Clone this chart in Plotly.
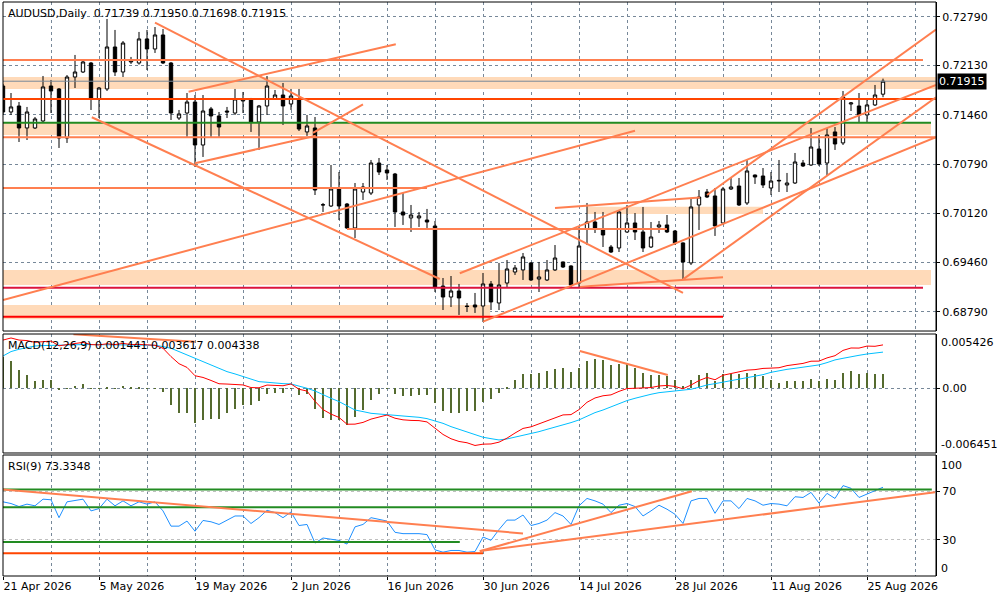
import plotly.graph_objects as go
from plotly.subplots import make_subplots

# ---------------- values ----------------
tick_labels = ['21 Apr 2026', '5 May 2026', '19 May 2026', '2 Jun 2026', '16 Jun 2026',
               '30 Jun 2026', '14 Jul 2026', '28 Jul 2026', '11 Aug 2026', '25 Aug 2026']
tick_bars = [0, 12, 24, 36, 48, 60, 72, 84, 96, 108]

price_ticks = [0.72790, 0.72130, 0.71460, 0.70790, 0.70120, 0.69460, 0.68790]

opens = [
    0.71850, 0.71498, 0.71579, 0.71281, 0.71281, 0.71376, 0.71850, 0.71810, 0.71145, 0.71972,
    0.72040, 0.72162, 0.71674, 0.71810, 0.72379, 0.72040, 0.72176, 0.72162, 0.72488, 0.72352,
    0.72542, 0.72162, 0.71416, 0.71484, 0.71633, 0.71050, 0.71539, 0.71444, 0.71511, 0.71484,
    0.71647, 0.71674, 0.71362, 0.71579, 0.71674, 0.71728, 0.71606, 0.71674, 0.71227, 0.71281,
    0.70237, 0.70223, 0.70454, 0.70250, 0.69925, 0.70413, 0.70399, 0.70806, 0.70711, 0.70657,
    0.70142, 0.70061, 0.70061, 0.70033, 0.69952, 0.69138, 0.68989, 0.69071, 0.68867, 0.68881,
    0.68867, 0.69166, 0.68908, 0.69179, 0.69328, 0.69356, 0.69451, 0.69233, 0.69220, 0.69356,
    0.69464, 0.69410, 0.69179, 0.69912, 0.70006, 0.69898, 0.69667, 0.69654, 0.69871, 0.69993,
    0.69871, 0.69667, 0.69939, 0.69966, 0.69884, 0.69722, 0.69451, 0.70237, 0.70413, 0.70359,
    0.69993, 0.70454, 0.70494, 0.70264, 0.70643, 0.70630, 0.70467, 0.70562, 0.70508, 0.70535,
    0.70806, 0.70779, 0.70996, 0.70806, 0.71227, 0.71078, 0.71606, 0.71579, 0.71457, 0.71593,
    0.71739]
highs = [
    0.71878, 0.71755, 0.71633, 0.71566, 0.71430, 0.71986, 0.71932, 0.71823, 0.71999, 0.72271,
    0.72203, 0.72176, 0.71837, 0.72759, 0.72610, 0.72460, 0.72244, 0.72583, 0.72610, 0.72650,
    0.72623, 0.72176, 0.71525, 0.71755, 0.71728, 0.71728, 0.71566, 0.71498, 0.71566, 0.71810,
    0.71769, 0.71688, 0.71593, 0.71986, 0.71796, 0.71891, 0.71810, 0.71810, 0.71457, 0.71430,
    0.70264, 0.70779, 0.70684, 0.70264, 0.70535, 0.70535, 0.70847, 0.70874, 0.70779, 0.70671,
    0.70399, 0.70237, 0.70142, 0.70183, 0.70020, 0.69247, 0.69274, 0.69166, 0.68908, 0.69044,
    0.69315, 0.69206, 0.69451, 0.69491, 0.69423, 0.69586, 0.69464, 0.69464, 0.69491, 0.69694,
    0.69470, 0.69420, 0.69939, 0.70264, 0.70142, 0.70142, 0.69694, 0.70155, 0.70237, 0.70128,
    0.70210, 0.70006, 0.70020, 0.70101, 0.69898, 0.69730, 0.70318, 0.70440, 0.70454, 0.70467,
    0.70481, 0.70616, 0.70603, 0.70847, 0.70650, 0.70738, 0.70684, 0.70847, 0.70671, 0.70942,
    0.70847, 0.71281, 0.71186, 0.71281, 0.71294, 0.71782, 0.71633, 0.71755, 0.71661, 0.71864,
    0.71950]
lows = [
    0.71457, 0.71457, 0.71091, 0.71118, 0.71267, 0.71362, 0.71484, 0.71010, 0.71078, 0.71823,
    0.72026, 0.71525, 0.71416, 0.71782, 0.71986, 0.71972, 0.72149, 0.72140, 0.72067, 0.72298,
    0.72149, 0.71389, 0.71389, 0.71159, 0.70752, 0.70888, 0.71159, 0.71159, 0.71416, 0.71457,
    0.71484, 0.71227, 0.70983, 0.71457, 0.71661, 0.71322, 0.71525, 0.71240, 0.71173, 0.70372,
    0.70142, 0.70210, 0.70033, 0.69912, 0.69789, 0.70305, 0.70372, 0.70643, 0.70576, 0.69939,
    0.69966, 0.69871, 0.69939, 0.69925, 0.69057, 0.68813, 0.68854, 0.68746, 0.68786, 0.68773,
    0.68651, 0.68813, 0.68813, 0.69125, 0.69288, 0.69220, 0.69206, 0.69057, 0.69206, 0.69342,
    0.69383, 0.69111, 0.69125, 0.69694, 0.69857, 0.69667, 0.69586, 0.69599, 0.69860, 0.69762,
    0.69599, 0.69654, 0.69857, 0.69857, 0.69694, 0.69233, 0.69423, 0.69898, 0.70331, 0.69817,
    0.69966, 0.70440, 0.70223, 0.70237, 0.70522, 0.70467, 0.70372, 0.70413, 0.70413, 0.70522,
    0.70752, 0.70766, 0.70766, 0.70643, 0.70983, 0.71050, 0.71511, 0.71362, 0.71349, 0.71579,
    0.71698]
closes = [
    0.71498, 0.71566, 0.71281, 0.71498, 0.71403, 0.71837, 0.71782, 0.71145, 0.71972, 0.72040,
    0.72176, 0.71674, 0.71823, 0.72379, 0.72040, 0.72433, 0.72189, 0.72488, 0.72352, 0.72542,
    0.72162, 0.71484, 0.71471, 0.71633, 0.71050, 0.71511, 0.71444, 0.71294, 0.71498, 0.71674,
    0.71660, 0.71362, 0.71579, 0.71850, 0.71728, 0.71579, 0.71715, 0.71267, 0.71308, 0.70440,
    0.70240, 0.70454, 0.70223, 0.69925, 0.70454, 0.70481, 0.70806, 0.70684, 0.70671, 0.70142,
    0.70101, 0.70101, 0.70088, 0.70006, 0.69125, 0.68989, 0.69071, 0.68976, 0.68860, 0.68854,
    0.69166, 0.68922, 0.69152, 0.69369, 0.69383, 0.69532, 0.69220, 0.69261, 0.69356, 0.69518,
    0.69396, 0.69152, 0.69681, 0.70006, 0.69925, 0.69830, 0.69599, 0.70142, 0.69993, 0.69871,
    0.69654, 0.69803, 0.69966, 0.69871, 0.69722, 0.69464, 0.70210, 0.70345, 0.70345, 0.69952,
    0.70454, 0.70481, 0.70237, 0.70698, 0.70616, 0.70508, 0.70562, 0.70570, 0.70535, 0.70820,
    0.70766, 0.71023, 0.70793, 0.71186, 0.71064, 0.71701, 0.71620, 0.71457, 0.71593, 0.71728,
    0.71915]

macd_hist = [
    0.00317, 0.00273, 0.00184, 0.00134, 0.00074, 0.00084, 0.00084, -0.00016, 0.00001, 0.00024,
    0.00044, 0.00002, -0.00006, 0.00017, 0.00002, 0.00024, 0.00007, 0.00011, 0.00002, 0.00002,
    -0.00033, -0.00166, -0.00242, -0.00249, -0.00349, -0.00315, -0.00309, -0.00309, -0.00249, -0.00206,
    -0.00166, -0.00166, -0.00122, -0.00056, -0.00043, -0.00043, 0.00002, -0.00066, -0.00056, -0.00206,
    -0.00292, -0.00315, -0.00315, -0.00365, -0.00282, -0.00216, -0.00116, -0.00056, 0.00002, -0.00059,
    -0.00076, -0.00076, -0.00066, -0.00066, -0.00150, -0.00223, -0.00242, -0.00242, -0.00223, -0.00223,
    -0.00137, -0.00106, -0.00043, 0.00017, 0.00084, 0.00143, 0.00143, 0.00157, 0.00173, 0.00194,
    0.00200, 0.00160, 0.00207, 0.00273, 0.00293, 0.00283, 0.00234, 0.00244, 0.00240, 0.00200,
    0.00157, 0.00134, 0.00134, 0.00124, 0.00084, 0.00024, 0.00084, 0.00134, 0.00150, 0.00077,
    0.00140, 0.00143, 0.00140, 0.00157, 0.00140, 0.00124, 0.00084, 0.00057, 0.00074, 0.00074,
    0.00077, 0.00094, 0.00077, 0.00094, 0.00084, 0.00157, 0.00173, 0.00143, 0.00157, 0.00140,
    0.001441]
macd_main = [
    0.00482, 0.00503, 0.00482, 0.00477, 0.00460, 0.00469, 0.00472, 0.00425, 0.00434, 0.00445,
    0.00459, 0.00437, 0.00434, 0.00445, 0.00437, 0.00449, 0.00437, 0.00439, 0.00433, 0.00430,
    0.00400, 0.00317, 0.00246, 0.00209, 0.00126, 0.00109, 0.00079, 0.00046, 0.00043, 0.00041,
    0.00034, 0.00008, 0.00006, 0.00033, 0.00029, 0.00026, 0.00044, -0.00009, -0.00027, -0.00129,
    -0.00212, -0.00257, -0.00290, -0.00358, -0.00357, -0.00340, -0.00307, -0.00284, -0.00266, -0.00298,
    -0.00314, -0.00320, -0.00322, -0.00335, -0.00397, -0.00460, -0.00503, -0.00530, -0.00543, -0.00570,
    -0.00557, -0.00555, -0.00537, -0.00497, -0.00446, -0.00400, -0.00384, -0.00353, -0.00322, -0.00292,
    -0.00265, -0.00262, -0.00212, -0.00139, -0.00096, -0.00074, -0.00065, -0.00030, -0.00002, 0.00001,
    0.00003, 0.00008, 0.00024, 0.00029, 0.00019, -0.00004, 0.00033, 0.00078, 0.00109, 0.00086,
    0.00131, 0.00149, 0.00161, 0.00182, 0.00187, 0.00199, 0.00202, 0.00206, 0.00227, 0.00237,
    0.00249, 0.00271, 0.00272, 0.00304, 0.00326, 0.00379, 0.00403, 0.00402, 0.00422, 0.00420,
    0.004338]
macd_signal = [
    0.00323, 0.00367, 0.00390, 0.00410, 0.00423, 0.00427, 0.00430, 0.00433, 0.00433, 0.00433,
    0.00437, 0.00437, 0.00437, 0.00437, 0.00437, 0.00437, 0.00433, 0.00433, 0.00433, 0.00430,
    0.00417, 0.00400, 0.00367, 0.00333, 0.00300, 0.00267, 0.00234, 0.00200, 0.00167, 0.00144,
    0.00117, 0.00091, 0.00067, 0.00061, 0.00051, 0.00047, 0.00044, 0.00024, 0.00001, -0.00026,
    -0.00066, -0.00099, -0.00132, -0.00176, -0.00216, -0.00232, -0.00249, -0.00256, -0.00266, -0.00269,
    -0.00276, -0.00282, -0.00289, -0.00302, -0.00322, -0.00349, -0.00382, -0.00409, -0.00432, -0.00459,
    -0.00488, -0.00502, -0.00515, -0.00505, -0.00488, -0.00472, -0.00455, -0.00432, -0.00409, -0.00389,
    -0.00365, -0.00342, -0.00315, -0.00276, -0.00242, -0.00216, -0.00182, -0.00152, -0.00122, -0.00099,
    -0.00076, -0.00059, -0.00043, -0.00033, -0.00023, -0.00016, -0.00009, 0.00011, 0.00034, 0.00047,
    0.00061, 0.00077, 0.00091, 0.00104, 0.00117, 0.00137, 0.00160, 0.00177, 0.00190, 0.00200,
    0.00210, 0.00224, 0.00234, 0.00257, 0.00284, 0.00300, 0.00317, 0.00330, 0.00343, 0.00350,
    0.003617]

rsi_values = [
    61.3, 59.9, 57.4, 59.4, 58.0, 63.5, 63.0, 48.2, 61.3, 62.1,
    63.5, 53.8, 55.7, 63.5, 58.0, 62.1, 58.0, 61.3, 59.4, 61.3,
    53.8, 41.2, 41.2, 45.4, 37.0, 45.9, 44.8, 42.6, 46.2, 49.6,
    49.6, 43.4, 48.2, 54.3, 52.4, 48.2, 52.9, 41.7, 42.6, 27.2,
    31.4, 30.6, 29.4, 26.4, 40.6, 42.6, 48.2, 46.8, 45.4, 36.1,
    35.0, 35.0, 35.0, 34.2, 21.6, 19.7, 21.1, 21.1, 19.7, 20.2,
    32.2, 29.5, 38.4, 46.2, 46.2, 50.4, 41.7, 43.4, 46.2, 52.4,
    49.6, 42.6, 58.0, 64.1, 62.1, 59.4, 52.4, 58.5, 59.9, 57.4,
    49.6, 53.8, 58.5, 55.2, 51.0, 43.4, 62.1, 64.1, 64.1, 51.8,
    62.1, 62.1, 55.7, 64.1, 62.1, 58.5, 59.9, 59.4, 58.0, 65.5,
    64.9, 69.1, 60.2, 68.3, 64.1, 74.7, 72.5, 64.9, 67.7, 70.0,
    73.3348]

# hand-drawn objects on the chart: levels (price, from bar, to bar)
coral_levels = [(0.72203, 0, 115), (0.71155, 0, 116.625), (0.70467, 0, 53), (0.69912, 43, 83)]
orangered_levels = [(0.71674, 0, 116.625)]
green_levels = [(0.71353, 0, 116)]
crimson_levels = [(0.69115, 0, 115)]
red_levels = [(0.68722, 0, 90)]
# zones (low, high, from bar, to bar)
zones = [(0.71810, 0.71972, 0, 116.625), (0.71186, 0.71353, 0, 116), (0.70115, 0.70214, 73, 95),
         (0.69152, 0.69356, 0, 116), (0.68687, 0.68881, 0, 60.9)]
# trend lines (bar, price, bar, price)
trend_lines = [(19, 0.72709, 85, 0.69044), (11.1, 0.71426, 54.6, 0.69233), (0, 0.68949, 79, 0.71244),
               (23.2, 0.71773, 49.1, 0.72416), (24, 0.70802, 39.1, 0.71176), (38.75, 0.71213, 45, 0.71602),
               (60, 0.68655, 116.625, 0.71155), (57.1, 0.69311, 116.625, 0.71864),
               (85, 0.69229, 116.625, 0.71697), (88, 0.70372, 116.625, 0.72615),
               (69, 0.70196, 87.1, 0.70337), (72.1, 0.69129, 90, 0.69256)]
macd_trend = [(8.8, 0.00540, 24, 0.00466), (72.1, 0.00373, 83.1, 0.00134)]
rsi_green_levels = [(71.4, 116.1), (56.8, 78), (28.0, 57.1)]
rsi_orangered_levels = [(18.7, 60)]
rsi_trend = [(0, 71.4, 65, 35.2), (59.6, 20.5, 86.1, 70.0), (59.6, 20.6, 116.5, 69.2)]

last_price = 0.71915
header = 'AUDUSD,Daily\u00a0 0.71739 0.71950 0.71698 0.71915'
macd_label = 'MACD(12,26,9) 0.001441 0.003617 0.004338'
rsi_label = 'RSI(9) 73.3348'

# ---------------- figure ----------------
bars = list(range(len(closes)))
GRID = '#778899'
CORAL = '#FF7F50'
XMAX = 116.625

fig = make_subplots(rows=3, cols=1, vertical_spacing=0)

fig.add_trace(go.Candlestick(x=bars, open=opens, high=highs, low=lows, close=closes,
                             increasing=dict(line=dict(color='black', width=1), fillcolor='white'),
                             decreasing=dict(line=dict(color='black', width=1), fillcolor='black'),
                             whiskerwidth=0, hoverinfo='skip'), row=1, col=1)

fig.add_trace(go.Bar(x=bars, y=macd_hist, width=0.14, marker=dict(color='#556B2F', line=dict(width=0))),
              row=2, col=1)
fig.add_trace(go.Scatter(x=bars, y=macd_signal, mode='lines', line=dict(color='#00BFFF', width=1)), row=2, col=1)
fig.add_trace(go.Scatter(x=bars, y=macd_main, mode='lines', line=dict(color='#FF0000', width=1)), row=2, col=1)

fig.add_trace(go.Scatter(x=bars, y=rsi_values, mode='lines', line=dict(color='#1E90FF', width=1)), row=3, col=1)

# zones and lines in the price window
for lo, hi, b0, b1 in zones:
    fig.add_shape(type='rect', xref='x', yref='y', x0=b0, x1=b1, y0=lo, y1=hi,
                  fillcolor='#FFDAB9', line=dict(width=0), layer='between')

def hline(xr, yr, level, b0, b1, color, width=2):
    fig.add_shape(type='line', xref=xr, yref=yr, x0=b0, x1=b1, y0=level, y1=level,
                  line=dict(color=color, width=width), layer='above')

fig.add_shape(type='line', xref='x', yref='y', x0=0, x1=XMAX, y0=last_price, y1=last_price,
              line=dict(color=GRID, width=1), layer='above')
for p, b0, b1 in coral_levels:
    hline('x', 'y', p, b0, b1, CORAL)
for p, b0, b1 in orangered_levels:
    hline('x', 'y', p, b0, b1, '#FF4500')
for p, b0, b1 in green_levels:
    hline('x', 'y', p, b0, b1, '#228B22')
for p, b0, b1 in crimson_levels:
    hline('x', 'y', p, b0, b1, '#DC143C')
for p, b0, b1 in red_levels:
    hline('x', 'y', p, b0, b1, '#FF0000')
for b0, p0, b1, p1 in trend_lines:
    fig.add_shape(type='line', xref='x', yref='y', x0=b0, y0=p0, x1=b1, y1=p1,
                  line=dict(color=CORAL, width=2), layer='above')

for b0, v0, b1, v1 in macd_trend:
    fig.add_shape(type='line', xref='x2', yref='y2', x0=b0, y0=v0, x1=b1, y1=v1,
                  line=dict(color=CORAL, width=2), layer='above')

for v, b1 in rsi_green_levels:
    hline('x3', 'y3', v, 0, b1, '#228B22')
for v, b1 in rsi_orangered_levels:
    hline('x3', 'y3', v, 0, b1, '#FF4500')
for b0, v0, b1, v1 in rsi_trend:
    fig.add_shape(type='line', xref='x3', yref='y3', x0=b0, y0=v0, x1=b1, y1=v1,
                  line=dict(color=CORAL, width=2), layer='above')

# panel frames
for xr, yr in [('x', 'y'), ('x2', 'y2'), ('x3', 'y3')]:
    fig.add_shape(type='rect', xref=xr + ' domain', yref=yr + ' domain', x0=0, x1=1, y0=0, y1=1,
                  line=dict(color='black', width=1), fillcolor='rgba(0,0,0,0)', layer='above')

minor_bars = [b + 6 for b in tick_bars]
xcommon = dict(range=[0, XMAX], showgrid=True, gridcolor=GRID, griddash='3px,3px', gridwidth=1,
               tickmode='array', tickvals=tick_bars, zeroline=False, showline=False,
               minor=dict(tickmode='array', tickvals=minor_bars, showgrid=True, gridcolor=GRID,
                          griddash='3px,3px', gridwidth=1, ticks=''))
ycommon = dict(side='right', showgrid=True, gridcolor=GRID, griddash='3px,3px', gridwidth=1,
               zeroline=False, showline=True, linecolor='black', linewidth=1,
               ticks='outside', ticklen=3, tickcolor='black', tickmode='array')

fig.update_layout(
    width=1000, height=600, margin=dict(l=3, r=64, t=2, b=24),
    paper_bgcolor='white', plot_bgcolor='white', showlegend=False,
    font=dict(family='DejaVu Sans', size=11, color='black'),
    boxgap=0.4, bargap=0,
    xaxis=dict(xcommon, showticklabels=False, ticks='', rangeslider=dict(visible=False)),
    xaxis2=dict(xcommon, showticklabels=False, ticks=''),
    xaxis3=dict(xcommon, ticktext=tick_labels, ticks='outside', ticklen=3, tickcolor='black',
                ticklabelposition='outside right'),
    yaxis=dict(ycommon, domain=[0.4268, 1.0], range=[0.68528, 0.72989], tickvals=price_ticks,
               ticktext=['%.5f' % p for p in price_ticks]),
    yaxis2=dict(ycommon, domain=[0.2143, 0.4216], range=[-0.006451, 0.005426], tickvals=[0],
                ticktext=['0.00']),
    yaxis3=dict(ycommon, domain=[0.0, 0.2108], range=[0, 100], tickvals=[70, 30],
                ticktext=['70', '30'], gridcolor='#C0C0C0'),
)

# indicator scale ends (placed inside the panel like the terminal does)
ends = [('0.005426', 'y2', 0.005426, -8), ('-0.006451', 'y2', -0.006451, 8),
        ('100', 'y3', 100, -10), ('0', 'y3', 0, 8)]
for txt, yr, v, dy in ends:
    fig.add_annotation(text=txt, xref='x domain', x=1, xshift=3, xanchor='left', yref=yr, y=v,
                       yshift=dy, showarrow=False, font=dict(size=11))

fig.add_annotation(text='0.71915', xref='x domain', x=1, xshift=1, xanchor='left', yref='y', y=last_price,
                   showarrow=False, bgcolor='black', font=dict(color='white', size=11), borderpad=1)

for txt, yr in [(header, 'y domain'), (macd_label, 'y2 domain'), (rsi_label, 'y3 domain')]:
    fig.add_annotation(text=txt, xref='x domain', x=0, xshift=3, xanchor='left', yref=yr, y=1,
                       yshift=-11, yanchor='middle', showarrow=False, font=dict(size=11))

fig.write_html('out.html', config={'displayModeBar': False},
               post_script="document.body.style.margin='0';")
